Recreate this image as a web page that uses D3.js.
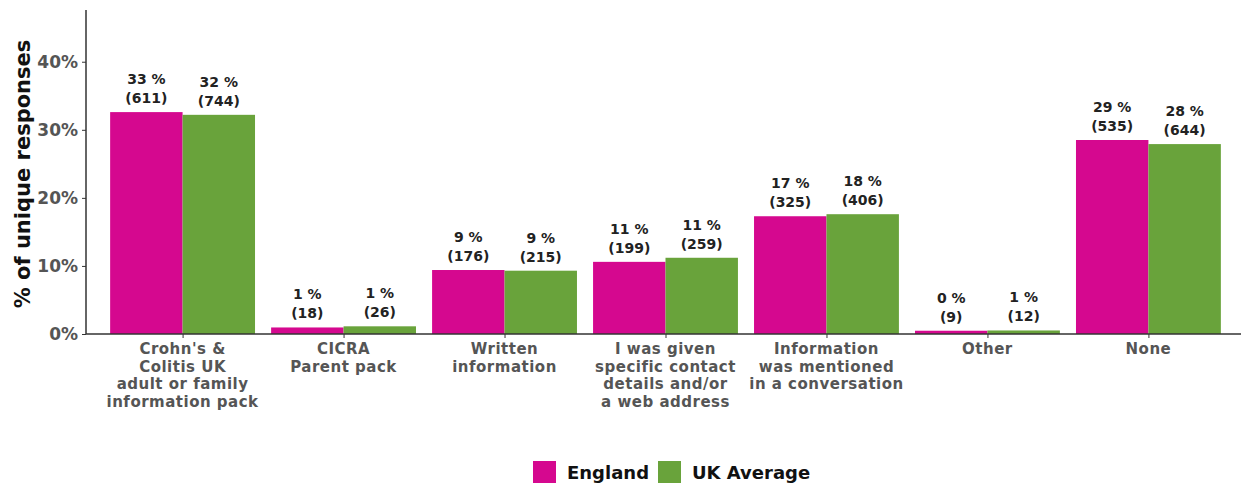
<!DOCTYPE html>
<html><head><meta charset="utf-8">
<script src="https://cdn.jsdelivr.net/npm/d3@7"></script>
<style>
body{margin:0;background:#fff;}
svg{display:block;font-family:"DejaVu Sans",sans-serif;}
</style></head>
<body><svg id="c" width="1241" height="483"></svg>
<script>
const categories = [
  ["Crohn's &","Colitis UK","adult or family","information pack"],
  ["CICRA","Parent pack"],
  ["Written","information"],
  ["I was given","specific contact","details and/or","a web address"],
  ["Information","was mentioned","in a conversation"],
  ["Other"],
  ["None"]
];
const seriesNames = ["England","UK Average"];
const englandPct = [32.6, 0.96, 9.4, 10.6, 17.3, 0.48, 28.5];
const ukPct      = [32.2, 1.13, 9.3, 11.2, 17.6, 0.52, 27.9];
const englandN   = [611, 18, 176, 199, 325, 9, 535];
const ukN        = [744, 26, 215, 259, 406, 12, 644];
const englandLbl = ["33 %","1 %","9 %","11 %","17 %","0 %","29 %"];
const ukLbl      = ["32 %","1 %","9 %","11 %","18 %","1 %","28 %"];
const yTicks = [0,10,20,30,40];
const colors = ["#D5088F","#69A33B"];

const FONT = "'DejaVu Sans',sans-serif";
const svg = d3.select("#c");
const x0 = 86, yBase = 334, yTop = 10;
const idx = d3.range(categories.length);
const x = d3.scalePoint().domain(idx).range([x0, 1245]).padding(0.6);
const step = x.step();
const bw = step*0.9/2;
const y = d3.scaleLinear().domain([0, 47.6]).range([yBase, yTop]);

// bars
const series = [englandPct, ukPct];
const counts = [englandN, ukN];
const lbls = [englandLbl, ukLbl];
series.forEach((vals, s) => {
  svg.append("g").selectAll("rect").data(idx).join("rect")
    .attr("x", i => x(i) - bw + s*bw)
    .attr("width", bw)
    .attr("y", i => y(vals[i]))
    .attr("height", i => yBase - y(vals[i]))
    .attr("fill", colors[s]);
  const g = svg.append("g").attr("font-weight",700).attr("font-size",14).attr("fill","#222").attr("text-anchor","middle");
  g.selectAll("text.p").data(idx).join("text").attr("class","p")
    .attr("x", i => x(i) - bw/2 + s*bw)
    .attr("y", i => y(vals[i]) - 28)
    .text(i => lbls[s][i]);
  g.selectAll("text.n").data(idx).join("text").attr("class","n")
    .attr("x", i => x(i) - bw/2 + s*bw)
    .attr("y", i => y(vals[i]) - 9)
    .text(i => "(" + counts[s][i] + ")");
});

// y axis
const yAxis = d3.axisLeft(y).tickValues(yTicks).tickFormat(d => d + "%").tickSize(4).tickPadding(4);
const ga = svg.append("g").attr("transform", `translate(${x0},0)`).call(yAxis);
ga.select(".domain").attr("d", `M0,${yTop}V${yBase}`).attr("stroke","#333").attr("stroke-width",1.5);
ga.selectAll(".tick line").attr("stroke","#333");
ga.selectAll(".tick text").attr("font-size",17).attr("font-weight",700).attr("fill","#555").attr("font-family",FONT);

// x axis
const xAxis = d3.axisBottom(x).tickFormat("").tickSize(4);
const gx = svg.append("g").attr("transform", `translate(0,${yBase})`).call(xAxis);
gx.select(".domain").attr("d", `M${x0},0H1241`).attr("stroke","#333").attr("stroke-width",1.5);
gx.selectAll(".tick line").attr("stroke","#333");
const xl = svg.append("g").attr("font-size",15).attr("letter-spacing",0.5).attr("font-weight",700).attr("fill","#555").attr("text-anchor","middle");
idx.forEach(i => {
  categories[i].forEach((line, k) => {
    xl.append("text").attr("x", x(i)).attr("y", 354 + k*17.5).text(line);
  });
});

// y title
svg.append("text").attr("transform", `translate(30,174) rotate(-90)`)
  .attr("text-anchor","middle").attr("font-size",21).attr("font-weight",700).attr("fill","#111")
  .text("% of unique responses");

// legend
const lg = svg.append("g");
const legX = [533, 658];
seriesNames.forEach((n, s) => {
  lg.append("rect").attr("x", legX[s]).attr("y", 461).attr("width", 23).attr("height", 22).attr("fill", colors[s]);
  lg.append("text").attr("x", legX[s] + 34).attr("y", 479).attr("font-size",18).attr("font-weight",700).attr("fill","#111").text(n);
});
</script></body></html>
